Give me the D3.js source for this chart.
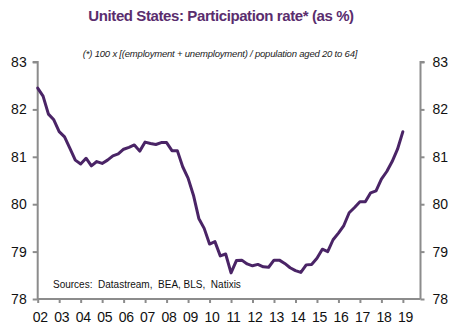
<!DOCTYPE html>
<html><head><meta charset="utf-8">
<script src="https://cdn.jsdelivr.net/npm/d3@7"></script>
<style>body{margin:0;background:#fff;} svg{display:block;font-family:Arial,"Liberation Sans",sans-serif;}</style>
</head><body>
<svg id="c" width="460" height="329"></svg>
<script>
const title = "United States: Participation rate* (as %)";
const subtitle = "(*) 100 x [(employment + unemployment) / population aged 20 to 64]";
const sourceText = "Sources:  Datastream,  BEA, BLS,  Natixis";
const startYear = 2002;
// quarterly values, 2002Q1 .. 2019Q1
const values = [
  82.45, 82.28, 81.90, 81.78,
  81.53, 81.42, 81.18, 80.93,
  80.85, 80.97, 80.81, 80.90,
  80.86, 80.93, 81.02, 81.06,
  81.16, 81.20, 81.25, 81.12,
  81.31, 81.28, 81.26, 81.30,
  81.30, 81.13, 81.13, 80.79,
  80.55, 80.19, 79.70, 79.49,
  79.16, 79.21, 78.91, 78.95,
  78.55, 78.81, 78.82, 78.74,
  78.70, 78.73, 78.68, 78.67,
  78.82, 78.82, 78.75, 78.66,
  78.60, 78.56, 78.72, 78.73,
  78.86, 79.05, 79.00, 79.25,
  79.39, 79.55, 79.82, 79.93,
  80.05, 80.05, 80.24, 80.28,
  80.53, 80.69, 80.90, 81.16,
  81.53
];
const yearTicks = d3.range(2002, 2020);
const yTicks = [78, 79, 80, 81, 82, 83];

const svg = d3.select("#c");
const x = d3.scaleLinear().domain([2002, 2019.82]).range([37.7, 420.5]);
const y = d3.scaleLinear().domain([78, 83]).range([299, 62]);
const data = values.map((v, i) => ({t: startYear + i / 4, v}));

const axisColor = "#8c8c8c";

svg.append("text").attr("x", 221).attr("y", 21).attr("text-anchor", "middle")
  .attr("font-size", 15).attr("font-weight", "bold").attr("fill", "#5a2d6e")
  .attr("letter-spacing", -0.4).text(title);

svg.append("text").attr("x", 220).attr("y", 57).attr("text-anchor", "middle")
  .attr("font-size", 9.5).attr("font-style", "italic").attr("fill", "#222")
  .attr("letter-spacing", -0.2).text(subtitle);

// left axis
const gl = svg.append("g").attr("transform", `translate(${x.range()[0]},0)`)
  .call(d3.axisLeft(y).tickValues(yTicks).tickSize(5).tickPadding(6).tickFormat(d3.format("d")));
// right axis
const gr = svg.append("g").attr("transform", `translate(${x.range()[1]},0)`)
  .call(d3.axisRight(y).tickValues(yTicks).tickSize(4).tickPadding(8).tickFormat(d3.format("d")));
// bottom axis
const gb = svg.append("g").attr("transform", `translate(0,${y(78)})`)
  .call(d3.axisBottom(x).tickValues(yearTicks).tickSize(4).tickPadding(9)
    .tickFormat(d => String(d % 100).padStart(2, "0")));

[gl, gr, gb].forEach(g => {
  g.select(".domain").attr("stroke", axisColor).attr("stroke-width", 2);
  g.selectAll(".tick line").attr("stroke", axisColor).attr("stroke-width", 2);
  g.selectAll(".tick text").attr("fill", "#111").attr("font-size", 14)
    .attr("font-family", "Arial, 'Liberation Sans', sans-serif");
});
gb.selectAll(".tick text").attr("dx", 2).attr("letter-spacing", -0.3);
gl.select(".domain").attr("d", `M-5,${y(83)}H0V${y(78)}`);
gr.select(".domain").attr("d", `M4,${y(83)}H0V${y(78)}`);
gb.select(".domain").attr("d", `M${x.range()[0]},0H${x.range()[1]}`);

svg.append("path").datum(data)
  .attr("fill", "none").attr("stroke", "#4a2466").attr("stroke-width", 3)
  .attr("stroke-linejoin", "round").attr("stroke-linecap", "round")
  .attr("d", d3.line().x(d => x(d.t)).y(d => y(d.v)));

svg.append("text").attr("x", 53).attr("y", 288).attr("font-size", 10)
  .attr("fill", "#111").attr("xml:space", "preserve").style("white-space", "pre")
  .text(sourceText);
</script>
</body></html>
